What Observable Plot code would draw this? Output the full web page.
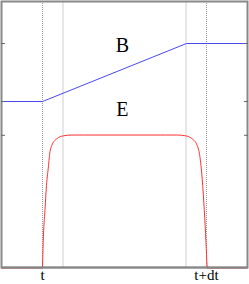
<!DOCTYPE html>
<html><head><meta charset="utf-8">
<script src="https://cdn.jsdelivr.net/npm/d3@7"></script>
<script src="https://cdn.jsdelivr.net/npm/@observablehq/plot@0.6"></script>
<style>html,body{margin:0;padding:0;background:#fff;overflow:hidden}</style>
</head><body><div id="chart"></div>
<script>
// B field: flat, linear ramp, flat
const bPoints = [[0, 0.624], [2, 0.624], [9.02, 0.842], [12, 0.842]];
// E field: zero, fast rise, plateau, fast fall, zero
const eBefore = [[0, 0], [2, 0]];
const ePulse = [
  [2.0, 0], [2.034, 0.094], [2.122, 0.218], [2.195, 0.308], [2.293, 0.383],
  [2.341, 0.421], [2.454, 0.459], [2.698, 0.484], [3.02, 0.495], [3.4, 0.498],
  [4.0, 0.498], [8.0, 0.498], [8.6, 0.498], [8.98, 0.495], [9.30, 0.484],
  [9.546, 0.459], [9.67, 0.421], [9.73, 0.383], [9.815, 0.308], [9.89, 0.218],
  [9.975, 0.094], [10.03, 0]
];
const eAfter = [[10.03, 0], [12, 0]];
const tickX = [2, 10];
const tickXLabels = ["t", "t+dt"];
const guideX = [3, 9];
const yTicks = [0.497, 0.624, 0.842];
const labels = [
  {text: "B", x: 5.9, y: 0.833},
  {text: "E", x: 5.9, y: 0.592}
];

const serif = "Liberation Serif, Times New Roman, serif";
const chart = Plot.plot({
  width: 249,
  height: 284,
  marginLeft: 1,
  marginRight: 2,
  marginTop: 1,
  marginBottom: 17,
  x: {domain: [0, 12], axis: null},
  y: {domain: [0, 1], axis: null},
  marks: [
    Plot.ruleX(guideX, {stroke: "#cfcfcf", strokeWidth: 1}),
    Plot.ruleX(tickX, {stroke: "#999", strokeWidth: 1, strokeDasharray: "1,1"}),
    Plot.line(bPoints, {x: d => d[0], y: d => d[1], stroke: "#4848f0", strokeWidth: 1}),
    Plot.line(eBefore, {x: d => d[0], y: d => d[1], stroke: "#f3a0a0", strokeWidth: 1, dy: 1}),
    Plot.line(eAfter, {x: d => d[0], y: d => d[1], stroke: "#f3a0a0", strokeWidth: 1, dy: 1}),
    Plot.line(ePulse, {x: d => d[0], y: d => d[1], stroke: "#ff3030", strokeWidth: 1, curve: "monotone-x"}),
    Plot.ruleY([0], {stroke: "#333", strokeWidth: 1.5}),
    Plot.frame({stroke: "#888", strokeWidth: 2}),
    Plot.axisY(yTicks, {anchor: "left", tickSize: -4, tickFormat: () => "", label: null, stroke: "#666"}),
    Plot.axisY(yTicks, {anchor: "right", tickSize: -4, tickFormat: () => "", label: null, stroke: "#666"}),
    Plot.axisX(tickX, {anchor: "bottom", tickSize: 0, tickPadding: 2, label: null,
      tickFormat: d => tickXLabels[tickX.indexOf(d)], fontSize: 15, fontFamily: serif, fill: "black"}),
    Plot.text(labels, {x: "x", y: "y", text: "text", fontSize: 20, fontFamily: serif, fill: "black"})
  ]
});
document.getElementById("chart").appendChild(chart);
</script>
</body></html>
